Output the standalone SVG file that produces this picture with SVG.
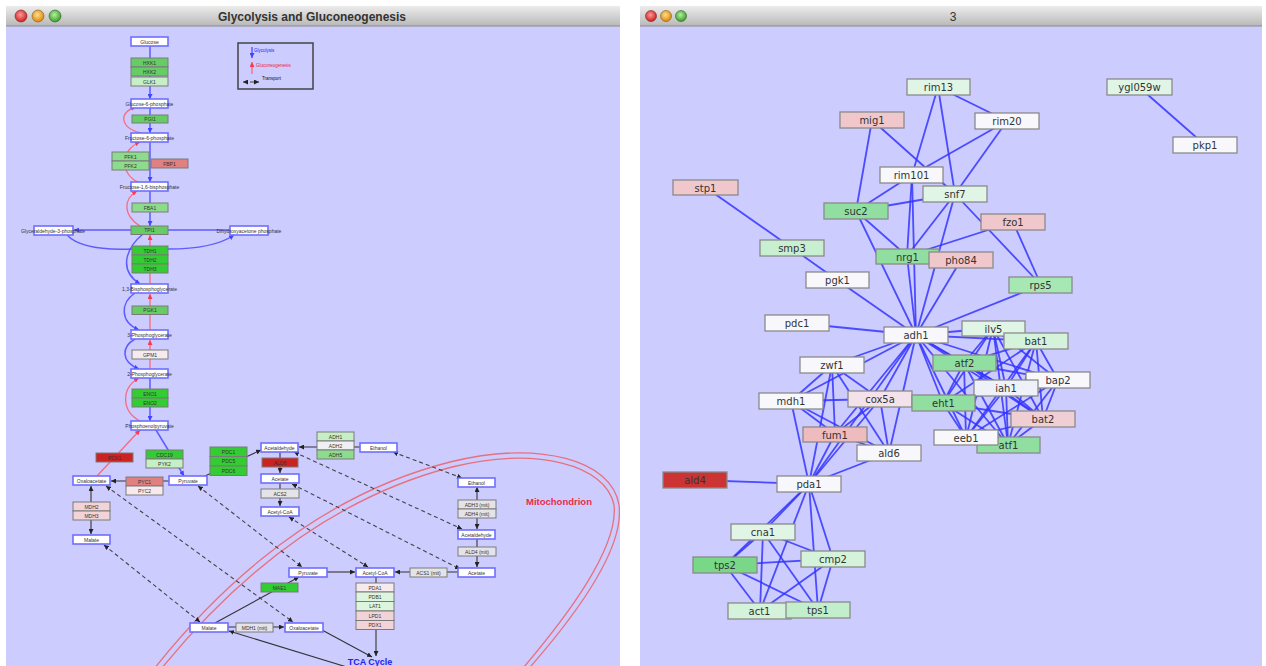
<svg xmlns="http://www.w3.org/2000/svg" width="1266" height="666" viewBox="0 0 1266 666">
<defs>
<linearGradient id="tb" x1="0" y1="0" x2="0" y2="1"><stop offset="0" stop-color="#ececec"/><stop offset="1" stop-color="#b8b8b8"/></linearGradient>
<radialGradient id="bR" cx="0.45" cy="0.4" r="0.6"><stop offset="0" stop-color="#ff9a9a"/><stop offset="1" stop-color="#c81e1e"/></radialGradient>
<radialGradient id="bY" cx="0.45" cy="0.4" r="0.6"><stop offset="0" stop-color="#ffe08a"/><stop offset="1" stop-color="#d8860e"/></radialGradient>
<radialGradient id="bG" cx="0.45" cy="0.4" r="0.6"><stop offset="0" stop-color="#b6f0a0"/><stop offset="1" stop-color="#3a9a2a"/></radialGradient>
<marker id="ab" viewBox="0 0 10 10" refX="10" refY="5" markerWidth="5" markerHeight="5" markerUnits="userSpaceOnUse" orient="auto"><path d="M0,0 L10,5 L0,10 z" fill="#2a2aff"/></marker>
<marker id="ar" viewBox="0 0 10 10" refX="10" refY="5" markerWidth="5" markerHeight="5" markerUnits="userSpaceOnUse" orient="auto"><path d="M0,0 L10,5 L0,10 z" fill="#ff2a40"/></marker>
<marker id="ak" viewBox="0 0 10 10" refX="10" refY="5" markerWidth="5" markerHeight="5" markerUnits="userSpaceOnUse" orient="auto-start-reverse"><path d="M0,0 L10,5 L0,10 z" fill="#222"/></marker>
<clipPath id="cl"><rect x="6" y="26" width="614" height="640"/></clipPath>
</defs>
<style>
.t{font-family:"Liberation Sans",Arial,sans-serif;font-size:5px;fill:#333;text-anchor:middle}
.met{fill:#fff;stroke:#6f6fff;stroke-width:1.6}
.enz{stroke:#7a7a7a;stroke-width:1}
.bl{fill:none;stroke:#4a4aff;stroke-width:1.5;opacity:0.85}
.rd{fill:none;stroke:#ff6070;stroke-width:1.3;opacity:0.9}
.bk{fill:none;stroke:#333;stroke-width:1.1}
.ds{fill:none;stroke:#444;stroke-width:1.1;stroke-dasharray:4 3}
.mito{fill:none;stroke:#e8707e;stroke-width:1.3}
.e{stroke:#3535ff;stroke-width:1.8;opacity:0.85}
.n rect{stroke:#8a8a8a;stroke-width:1.3}
.n text{font-family:"DejaVu Sans",sans-serif;font-size:10px;fill:#333;text-anchor:middle}
.title{font-family:"Liberation Sans",Arial,sans-serif;font-size:12px;fill:#333;text-anchor:middle;font-weight:bold}
.g1{fill:#33cc33}.g2{fill:#66cc66}.g3{fill:#8ddc8d}.g4{fill:#c6efc6}.g5{fill:#dcf5dc}
.r1{fill:#cc2222}.r2{fill:#e08080}.p1{fill:#f2d4d8}.p2{fill:#f6eaee}.gy{fill:#e4e4e8}.wh{fill:#f0f0f4}
</style>
<rect width="1266" height="666" fill="#fff"/>
<!-- Left window -->
<rect x="6" y="26" width="614" height="640" fill="#ccccff"/>
<rect x="6" y="6" width="614" height="20" fill="url(#tb)"/>
<line x1="6" y1="26" x2="620" y2="26" stroke="#8a8a8a"/>
<circle cx="21" cy="16" r="6" fill="url(#bR)" stroke="#8a2020" stroke-width="0.6"/>
<circle cx="38" cy="16" r="6" fill="url(#bY)" stroke="#8a5a10" stroke-width="0.6"/>
<circle cx="55" cy="16" r="6" fill="url(#bG)" stroke="#2a6a20" stroke-width="0.6"/>
<text class="title" x="312" y="21">Glycolysis and Gluconeogenesis</text>
<!-- Right window -->
<rect x="640" y="26" width="622" height="640" fill="#ccccff"/>
<rect x="640" y="6" width="622" height="20" fill="url(#tb)"/>
<line x1="640" y1="26" x2="1262" y2="26" stroke="#8a8a8a"/>
<circle cx="651" cy="16" r="5.5" fill="url(#bR)" stroke="#8a2020" stroke-width="0.6"/>
<circle cx="666" cy="16" r="5.5" fill="url(#bY)" stroke="#8a5a10" stroke-width="0.6"/>
<circle cx="681" cy="16" r="5.5" fill="url(#bG)" stroke="#2a6a20" stroke-width="0.6"/>
<text class="title" x="953" y="21" style="font-weight:normal">3</text>

<!-- Mitochondrion membrane -->
<g id="mitochondrion" clip-path="url(#cl)">
<path class="mito" d="M150,674 C200,610 300,500 450,462 C540,440 612,460 619,505 C625,550 572,620 524,674"/>
<path class="mito" d="M157,674 C206,613 305,505 452,467 C537,446 606,465 614,505 C619,548 566,618 518,674"/>
<text x="559" y="505" style="font-family:'Liberation Sans',Arial,sans-serif;font-size:9.5px;font-weight:bold;fill:#ee2a48;text-anchor:middle">Mitochondrion</text>
</g>

<!-- Legend -->
<g id="legend">
<rect x="238" y="43" width="75" height="46" fill="none" stroke="#444" stroke-width="1.5"/>
<path class="bl" d="M252,47 V58" marker-end="url(#ab)"/>
<text class="t" x="254" y="52" style="text-anchor:start;fill:#2222ee;font-size:4.5px">Glycolysis</text>
<path class="rd" d="M252,74 V62" marker-end="url(#ar)"/>
<text class="t" x="256" y="67" style="text-anchor:start;fill:#ee2233;font-size:4.5px">Gluconeogenesis</text>
<path class="ds" d="M243,82 H259" marker-start="url(#ak)" marker-end="url(#ak)"/>
<text class="t" x="262" y="80" style="text-anchor:start;fill:#111;font-size:4.5px">Transport</text>
</g>

<!-- Connectors (left) -->
<g id="pathway-connectors">
<path class="bl" d="M150,46 V99" marker-end="url(#ab)"/>
<path class="bl" d="M150,108 V133" marker-end="url(#ab)"/>
<path class="bl" d="M150,142 V182" marker-end="url(#ab)"/>
<path class="bl" d="M150,191 V226" marker-end="url(#ab)"/>
<path class="bl" d="M131,230 H74" marker-end="url(#ab)"/>
<path class="bl" d="M168,230 H230"/>
<path class="bl" d="M67,235 Q82,251 132,249"/>
<path class="bl" d="M168,249 Q214,249 234,235" marker-end="url(#ab)"/>
<path class="bl" d="M143,234 C126,248 118,270 140,284" marker-end="url(#ab)"/>
<path class="bl" d="M135,293 C120,303 120,322 139,330" marker-end="url(#ab)"/>
<path class="bl" d="M135,339 C121,347 121,362 139,369" marker-end="url(#ab)"/>
<path class="bl" d="M150,378 V421" marker-end="url(#ab)"/>
<path class="bl" d="M156,430 L184,476" marker-end="url(#ab)"/>
<path class="rd" d="M141,133 C120,128 118,112 136,107" marker-end="url(#ar)"/>
<path class="rd" d="M138,182 C120,174 120,150 140,142" marker-end="url(#ar)"/>
<path class="rd" d="M140,226 C124,216 122,200 137,191" marker-end="url(#ar)"/>
<path class="rd" d="M150,284 V235" marker-end="url(#ar)"/>
<path class="rd" d="M150,330 V294" marker-end="url(#ar)"/>
<path class="rd" d="M150,369 V340" marker-end="url(#ar)"/>
<path class="rd" d="M140,421 C121,411 121,388 139,378" marker-end="url(#ar)"/>
<path class="rd" d="M97,476 L140,430" marker-end="url(#ar)"/>
<path class="bk" d="M169,481 H111" marker-end="url(#ak)"/>
<path class="bk" d="M91,486 V534" marker-start="url(#ak)" marker-end="url(#ak)"/>
<path class="bk" d="M205,476 L261,450" marker-end="url(#ak)"/>
<path class="bk" d="M360,447 H299" marker-end="url(#ak)"/>
<path class="bk" d="M280,452 V473" marker-end="url(#ak)"/>
<path class="bk" d="M280,483 V506" marker-end="url(#ak)"/>
<path class="bk" d="M477,487 V529" marker-start="url(#ak)" marker-end="url(#ak)"/>
<path class="bk" d="M477,539 V567" marker-end="url(#ak)"/>
<path class="bk" d="M458,572 H395" marker-end="url(#ak)"/>
<path class="bk" d="M327,572 H355" marker-end="url(#ak)"/>
<path class="bk" d="M376,577 V656" marker-end="url(#ak)"/>
<path class="bk" d="M322,630 L372,657" marker-end="url(#ak)"/>
<path class="bk" d="M350,668 L229,631" marker-end="url(#ak)"/>
<path class="bk" d="M228,627 H284" marker-end="url(#ak)"/>
<path class="bk" d="M215,623 L299,577" marker-end="url(#ak)"/>
<path class="ds" d="M106,486 L293,622" marker-start="url(#ak)" marker-end="url(#ak)"/>
<path class="ds" d="M104,545 L200,622" marker-start="url(#ak)" marker-end="url(#ak)"/>
<path class="ds" d="M198,486 L302,567" marker-start="url(#ak)" marker-end="url(#ak)"/>
<path class="ds" d="M289,517 L368,567" marker-start="url(#ak)" marker-end="url(#ak)"/>
<path class="ds" d="M292,484 L460,569" marker-start="url(#ak)" marker-end="url(#ak)"/>
<path class="ds" d="M294,452 L462,529" marker-start="url(#ak)" marker-end="url(#ak)"/>
<path class="ds" d="M393,452 L462,478" marker-start="url(#ak)" marker-end="url(#ak)"/>
</g>

<!-- Metabolites -->
<g id="glucose"><rect class="met" x="131" y="37" width="37" height="9"/><text class="t" x="149.5" y="43.5">Glucose</text></g>
<g id="g6p"><rect class="met" x="131" y="99" width="37" height="9"/><text class="t" x="149.5" y="105.5">Glucose-6-phosphate</text></g>
<g id="f6p"><rect class="met" x="131" y="133" width="37" height="9"/><text class="t" x="149.5" y="139.5">Fructose-6-phosphate</text></g>
<g id="f16bp"><rect class="met" x="131" y="182" width="37" height="9"/><text class="t" x="149.5" y="188.5">Fructose-1,6-bisphosphate</text></g>
<g id="gap"><rect class="met" x="34" y="226" width="39" height="9"/><text class="t" x="53" y="232.5">Glyceraldehyde-3-phosphate</text></g>
<g id="dhap"><rect class="met" x="230" y="226" width="38" height="9"/><text class="t" x="249" y="232.5">Dihydroxyacetone phosphate</text></g>
<g id="bpg13"><rect class="met" x="131" y="284" width="37" height="9"/><text class="t" x="149.5" y="290.5">1,3-Bisphosphoglycerate</text></g>
<g id="pg3"><rect class="met" x="131" y="330" width="37" height="9"/><text class="t" x="149.5" y="336.5">3-Phosphoglycerate</text></g>
<g id="pg2"><rect class="met" x="131" y="369" width="37" height="9"/><text class="t" x="149.5" y="375.5">2-Phosphoglycerate</text></g>
<g id="pep"><rect class="met" x="131" y="421" width="37" height="9"/><text class="t" x="149.5" y="427.5">Phosphoenolpyruvate</text></g>
<g id="oaa"><rect class="met" x="73" y="476" width="37" height="9"/><text class="t" x="91.5" y="482.5">Oxaloacetate</text></g>
<g id="pyr"><rect class="met" x="169" y="476" width="38" height="9"/><text class="t" x="188" y="482.5">Pyruvate</text></g>
<g id="acald"><rect class="met" x="261" y="443" width="37" height="9"/><text class="t" x="279.5" y="449.5">Acetaldehyde</text></g>
<g id="acetate"><rect class="met" x="261" y="474" width="38" height="9"/><text class="t" x="280" y="480.5">Acetate</text></g>
<g id="accoa"><rect class="met" x="261" y="507" width="38" height="9"/><text class="t" x="280" y="513.5">Acetyl-CoA</text></g>
<g id="etoh"><rect class="met" x="360" y="443" width="37" height="9"/><text class="t" x="378.5" y="449.5">Ethanol</text></g>
<g id="malate"><rect class="met" x="73" y="535" width="37" height="9"/><text class="t" x="91.5" y="541.5">Malate</text></g>
<g id="etoh-mit"><rect class="met" x="458" y="478" width="37" height="9"/><text class="t" x="476.5" y="484.5">Ethanol</text></g>
<g id="acald-mit"><rect class="met" x="458" y="530" width="37" height="9"/><text class="t" x="476.5" y="536.5">Acetaldehyde</text></g>
<g id="acetate-mit"><rect class="met" x="458" y="568" width="37" height="9"/><text class="t" x="476.5" y="574.5">Acetate</text></g>
<g id="accoa-mit"><rect class="met" x="356" y="568" width="38" height="9"/><text class="t" x="375" y="574.5">Acetyl-CoA</text></g>
<g id="pyr-mit"><rect class="met" x="289" y="568" width="38" height="9"/><text class="t" x="308" y="574.5">Pyruvate</text></g>
<g id="malate-mit"><rect class="met" x="190" y="623" width="38" height="9"/><text class="t" x="209" y="629.5">Malate</text></g>
<g id="oaa-mit"><rect class="met" x="285" y="623" width="38" height="9"/><text class="t" x="304" y="629.5">Oxaloacetate</text></g>

<!-- Enzymes -->
<g id="hxk"><rect class="enz g2" x="131" y="58" width="37" height="9"/><text class="t" x="149.5" y="64.5">HXK1</text>
<rect class="enz g2" x="131" y="67" width="37" height="9"/><text class="t" x="149.5" y="73.5">HXK2</text>
<rect class="enz g4" x="131" y="77" width="37" height="9"/><text class="t" x="149.5" y="83.5">GLK1</text></g>
<g id="pgi1"><rect class="enz g2" x="132" y="115" width="36" height="8"/><text class="t" x="150" y="121">PGI1</text></g>
<g id="pfk"><rect class="enz g3" x="112" y="152" width="37" height="9"/><text class="t" x="130.5" y="158.5">PFK1</text>
<rect class="enz g3" x="112" y="161" width="37" height="9"/><text class="t" x="130.5" y="167.5">PFK2</text></g>
<g id="fbp1"><rect class="enz r2" x="151" y="159" width="37" height="9"/><text class="t" x="169.5" y="165.5">FBP1</text></g>
<g id="fba1"><rect class="enz g3" x="132" y="203" width="36" height="9"/><text class="t" x="150" y="209.5">FBA1</text></g>
<g id="tpi1"><rect class="enz g2" x="131" y="226" width="37" height="8.5"/><text class="t" x="149.5" y="232">TPI1</text></g>
<g id="tdh"><rect class="enz g1" x="132" y="246" width="36" height="9"/><text class="t" x="150" y="252.5">TDH1</text>
<rect class="enz g1" x="132" y="255" width="36" height="9"/><text class="t" x="150" y="261.5">TDH2</text>
<rect class="enz g1" x="132" y="264" width="36" height="9"/><text class="t" x="150" y="270.5">TDH3</text></g>
<g id="pgk1"><rect class="enz g2" x="132" y="306" width="36" height="8.5"/><text class="t" x="150" y="312">PGK1</text></g>
<g id="gpm1"><rect class="enz p2" x="132" y="350" width="36" height="9"/><text class="t" x="150" y="356.5">GPM1</text></g>
<g id="eno"><rect class="enz g1" x="132" y="389" width="36" height="9"/><text class="t" x="150" y="395.5">ENO1</text>
<rect class="enz g1" x="132" y="398" width="36" height="9"/><text class="t" x="150" y="404.5">ENO2</text></g>
<g id="pck1"><rect class="enz r1" x="96" y="453" width="37" height="9"/><text class="t" x="114.5" y="459.5">PCK1</text></g>
<g id="pyk"><rect class="enz g1" x="146" y="450" width="37" height="9"/><text class="t" x="164.5" y="456.5">CDC19</text>
<rect class="enz g4" x="146" y="459" width="37" height="9"/><text class="t" x="164.5" y="465.5">PYK2</text></g>
<g id="pyc"><rect class="enz r2" x="126" y="477" width="37" height="9"/><text class="t" x="144.5" y="483.5">PYC1</text>
<rect class="enz p2" x="126" y="486" width="37" height="9"/><text class="t" x="144.5" y="492.5">PYC2</text></g>
<g id="pdc"><rect class="enz g1" x="210" y="447" width="37" height="9.5"/><text class="t" x="228.5" y="453.5">PDC1</text>
<rect class="enz g1" x="210" y="456.5" width="37" height="9.5"/><text class="t" x="228.5" y="463">PDC5</text>
<rect class="enz g1" x="210" y="466" width="37" height="9.5"/><text class="t" x="228.5" y="472.5">PDC6</text></g>
<g id="ald6"><rect class="enz r1" x="262" y="458" width="36" height="9"/><text class="t" x="280" y="464.5">ALD6</text></g>
<g id="acs2"><rect class="enz gy" x="261" y="489" width="38" height="9"/><text class="t" x="280" y="495.5">ACS2</text></g>
<g id="adh"><rect class="enz g4" x="317" y="432" width="37" height="9"/><text class="t" x="335.5" y="438.5">ADH1</text>
<rect class="enz wh" x="317" y="441" width="37" height="9"/><text class="t" x="335.5" y="447.5">ADH2</text>
<rect class="enz g3" x="317" y="450" width="37" height="9"/><text class="t" x="335.5" y="456.5">ADH5</text></g>
<g id="mdh"><rect class="enz p1" x="73" y="502" width="37" height="9"/><text class="t" x="91.5" y="508.5">MDH2</text>
<rect class="enz p1" x="73" y="511" width="37" height="9"/><text class="t" x="91.5" y="517.5">MDH3</text></g>
<g id="adh-mit"><rect class="enz gy" x="458" y="500" width="38" height="9"/><text class="t" x="477" y="506.5">ADH3 (mit)</text>
<rect class="enz gy" x="458" y="509" width="38" height="9"/><text class="t" x="477" y="515.5">ADH4 (mit)</text></g>
<g id="ald4-mit"><rect class="enz gy" x="458" y="547" width="38" height="9"/><text class="t" x="477" y="553.5">ALD4 (mit)</text></g>
<g id="acs1-mit"><rect class="enz gy" x="410" y="568" width="37" height="9"/><text class="t" x="428.5" y="574.5">ACS1 (mit)</text></g>
<g id="mae1"><rect class="enz g1" x="261" y="583" width="37" height="9"/><text class="t" x="279.5" y="589.5">MAE1</text></g>
<g id="mdh1-mit"><rect class="enz gy" x="236" y="623" width="37" height="9"/><text class="t" x="254.5" y="629.5">MDH1 (mit)</text></g>
<g id="pdh"><rect class="enz p2" x="356" y="583" width="38" height="9"/><text class="t" x="375" y="589.5">PDA1</text>
<rect class="enz g5" x="356" y="592" width="38" height="9.5"/><text class="t" x="375" y="598.5">PDB1</text>
<rect class="enz g5" x="356" y="601.5" width="38" height="9.5"/><text class="t" x="375" y="608">LAT1</text>
<rect class="enz p1" x="356" y="611" width="38" height="9.5"/><text class="t" x="375" y="617.5">LPD1</text>
<rect class="enz p1" x="356" y="620.5" width="38" height="9"/><text class="t" x="375" y="627">PDX1</text></g>
<g id="tca"><text x="370" y="665" style="font-family:'Liberation Sans',Arial,sans-serif;font-size:9px;font-weight:bold;fill:#2222ee;text-anchor:middle">TCA Cycle</text></g>

<!-- Right network edges -->
<g id="edges">
<line class="e" x1="1139" y1="87" x2="1205" y2="145"/>
<line class="e" x1="938" y1="87" x2="1007" y2="121"/>
<line class="e" x1="938" y1="87" x2="912" y2="175"/>
<line class="e" x1="938" y1="87" x2="955" y2="194"/>
<line class="e" x1="1007" y1="121" x2="912" y2="175"/>
<line class="e" x1="1007" y1="121" x2="955" y2="194"/>
<line class="e" x1="872" y1="120" x2="856" y2="211"/>
<line class="e" x1="872" y1="120" x2="955" y2="194"/>
<line class="e" x1="912" y1="175" x2="856" y2="211"/>
<line class="e" x1="912" y1="175" x2="907" y2="256"/>
<line class="e" x1="912" y1="175" x2="916" y2="335"/>
<line class="e" x1="955" y1="194" x2="856" y2="211"/>
<line class="e" x1="955" y1="194" x2="907" y2="256"/>
<line class="e" x1="955" y1="194" x2="916" y2="335"/>
<line class="e" x1="955" y1="194" x2="1041" y2="285"/>
<line class="e" x1="856" y1="211" x2="907" y2="256"/>
<line class="e" x1="856" y1="211" x2="916" y2="335"/>
<line class="e" x1="1013" y1="222" x2="1041" y2="285"/>
<line class="e" x1="1013" y1="222" x2="907" y2="256"/>
<line class="e" x1="705" y1="187" x2="792" y2="248"/>
<line class="e" x1="792" y1="248" x2="837" y2="280"/>
<line class="e" x1="837" y1="280" x2="916" y2="335"/>
<line class="e" x1="797" y1="323" x2="916" y2="335"/>
<line class="e" x1="907" y1="256" x2="916" y2="335"/>
<line class="e" x1="961" y1="260" x2="916" y2="335"/>
<line class="e" x1="1041" y1="285" x2="916" y2="335"/>
<line class="e" x1="916" y1="335" x2="993" y2="328"/>
<line class="e" x1="916" y1="335" x2="1036" y2="341"/>
<line class="e" x1="916" y1="335" x2="964" y2="363"/>
<line class="e" x1="916" y1="335" x2="1006" y2="388"/>
<line class="e" x1="916" y1="335" x2="943" y2="403"/>
<line class="e" x1="916" y1="335" x2="966" y2="438"/>
<line class="e" x1="916" y1="335" x2="1008" y2="445"/>
<line class="e" x1="916" y1="335" x2="1043" y2="419"/>
<line class="e" x1="916" y1="335" x2="1058" y2="380"/>
<line class="e" x1="916" y1="335" x2="832" y2="365"/>
<line class="e" x1="916" y1="335" x2="791" y2="401"/>
<line class="e" x1="916" y1="335" x2="880" y2="399"/>
<line class="e" x1="916" y1="335" x2="835" y2="434"/>
<line class="e" x1="916" y1="335" x2="889" y2="453"/>
<line class="e" x1="916" y1="335" x2="809" y2="484"/>
<line class="e" x1="993" y1="328" x2="1036" y2="341"/>
<line class="e" x1="993" y1="328" x2="964" y2="363"/>
<line class="e" x1="993" y1="328" x2="1058" y2="380"/>
<line class="e" x1="993" y1="328" x2="1006" y2="388"/>
<line class="e" x1="993" y1="328" x2="943" y2="403"/>
<line class="e" x1="993" y1="328" x2="1043" y2="419"/>
<line class="e" x1="993" y1="328" x2="966" y2="438"/>
<line class="e" x1="993" y1="328" x2="1008" y2="445"/>
<line class="e" x1="1036" y1="341" x2="964" y2="363"/>
<line class="e" x1="1036" y1="341" x2="1058" y2="380"/>
<line class="e" x1="1036" y1="341" x2="1006" y2="388"/>
<line class="e" x1="1036" y1="341" x2="943" y2="403"/>
<line class="e" x1="1036" y1="341" x2="1043" y2="419"/>
<line class="e" x1="1036" y1="341" x2="966" y2="438"/>
<line class="e" x1="1036" y1="341" x2="1008" y2="445"/>
<line class="e" x1="964" y1="363" x2="1058" y2="380"/>
<line class="e" x1="964" y1="363" x2="1006" y2="388"/>
<line class="e" x1="964" y1="363" x2="943" y2="403"/>
<line class="e" x1="964" y1="363" x2="1043" y2="419"/>
<line class="e" x1="964" y1="363" x2="966" y2="438"/>
<line class="e" x1="964" y1="363" x2="1008" y2="445"/>
<line class="e" x1="1058" y1="380" x2="1006" y2="388"/>
<line class="e" x1="1058" y1="380" x2="943" y2="403"/>
<line class="e" x1="1058" y1="380" x2="1043" y2="419"/>
<line class="e" x1="1058" y1="380" x2="966" y2="438"/>
<line class="e" x1="1058" y1="380" x2="1008" y2="445"/>
<line class="e" x1="1006" y1="388" x2="943" y2="403"/>
<line class="e" x1="1006" y1="388" x2="1043" y2="419"/>
<line class="e" x1="1006" y1="388" x2="966" y2="438"/>
<line class="e" x1="1006" y1="388" x2="1008" y2="445"/>
<line class="e" x1="943" y1="403" x2="1043" y2="419"/>
<line class="e" x1="943" y1="403" x2="966" y2="438"/>
<line class="e" x1="943" y1="403" x2="1008" y2="445"/>
<line class="e" x1="1043" y1="419" x2="966" y2="438"/>
<line class="e" x1="1043" y1="419" x2="1008" y2="445"/>
<line class="e" x1="966" y1="438" x2="1008" y2="445"/>
<line class="e" x1="832" y1="365" x2="791" y2="401"/>
<line class="e" x1="832" y1="365" x2="880" y2="399"/>
<line class="e" x1="832" y1="365" x2="835" y2="434"/>
<line class="e" x1="832" y1="365" x2="889" y2="453"/>
<line class="e" x1="832" y1="365" x2="809" y2="484"/>
<line class="e" x1="791" y1="401" x2="880" y2="399"/>
<line class="e" x1="791" y1="401" x2="835" y2="434"/>
<line class="e" x1="791" y1="401" x2="889" y2="453"/>
<line class="e" x1="791" y1="401" x2="809" y2="484"/>
<line class="e" x1="880" y1="399" x2="835" y2="434"/>
<line class="e" x1="880" y1="399" x2="889" y2="453"/>
<line class="e" x1="880" y1="399" x2="809" y2="484"/>
<line class="e" x1="835" y1="434" x2="809" y2="484"/>
<line class="e" x1="835" y1="434" x2="889" y2="453"/>
<line class="e" x1="889" y1="453" x2="809" y2="484"/>
<line class="e" x1="695" y1="480" x2="809" y2="484"/>
<line class="e" x1="809" y1="484" x2="763" y2="532"/>
<line class="e" x1="809" y1="484" x2="725" y2="565"/>
<line class="e" x1="809" y1="484" x2="833" y2="559"/>
<line class="e" x1="809" y1="484" x2="818" y2="610"/>
<line class="e" x1="809" y1="484" x2="760" y2="611"/>
<line class="e" x1="763" y1="532" x2="725" y2="565"/>
<line class="e" x1="763" y1="532" x2="833" y2="559"/>
<line class="e" x1="763" y1="532" x2="760" y2="611"/>
<line class="e" x1="763" y1="532" x2="818" y2="610"/>
<line class="e" x1="725" y1="565" x2="833" y2="559"/>
<line class="e" x1="725" y1="565" x2="760" y2="611"/>
<line class="e" x1="725" y1="565" x2="818" y2="610"/>
<line class="e" x1="833" y1="559" x2="760" y2="611"/>
<line class="e" x1="833" y1="559" x2="818" y2="610"/>
</g>

<!-- Right network nodes -->
<g id="n-rim13" class="n"><rect x="907" y="79" width="63" height="16" fill="#e0f5e6"/><text x="938.5" y="91">rim13</text></g>
<g id="n-rim20" class="n"><rect x="975" y="113" width="64" height="16" fill="#f8f8fc"/><text x="1007" y="125">rim20</text></g>
<g id="n-mig1" class="n"><rect x="840" y="112" width="64" height="16" fill="#f0c8cc"/><text x="872" y="124">mig1</text></g>
<g id="n-ygl059w" class="n"><rect x="1107" y="79" width="65" height="16" fill="#e0f5e6"/><text x="1139.5" y="91">ygl059w</text></g>
<g id="n-pkp1" class="n"><rect x="1173" y="137" width="64" height="16" fill="#f8f8fc"/><text x="1205" y="149">pkp1</text></g>
<g id="n-rim101" class="n"><rect x="880" y="167" width="63" height="16" fill="#f8f8fc"/><text x="911.5" y="179">rim101</text></g>
<g id="n-snf7" class="n"><rect x="923" y="186" width="64" height="16" fill="#e0f5e6"/><text x="955" y="198">snf7</text></g>
<g id="n-stp1" class="n"><rect x="673" y="180" width="65" height="15" fill="#f0c8cc"/><text x="705.5" y="191.5">stp1</text></g>
<g id="n-suc2" class="n"><rect x="824" y="203" width="64" height="16" fill="#90dfa0"/><text x="856" y="215">suc2</text></g>
<g id="n-fzo1" class="n"><rect x="981" y="214" width="64" height="16" fill="#f0c8cc"/><text x="1013" y="226">fzo1</text></g>
<g id="n-smp3" class="n"><rect x="760" y="240" width="64" height="16" fill="#c8f0d0"/><text x="792" y="252">smp3</text></g>
<g id="n-nrg1" class="n"><rect x="876" y="249" width="63" height="15" fill="#90dfa0"/><text x="907.5" y="260.5">nrg1</text></g>
<g id="n-pho84" class="n"><rect x="929" y="252" width="64" height="16" fill="#f0c8cc"/><text x="961" y="264">pho84</text></g>
<g id="n-rps5" class="n"><rect x="1009" y="277" width="63" height="16" fill="#a6e8b4"/><text x="1040.5" y="289">rps5</text></g>
<g id="n-pgk1" class="n"><rect x="806" y="272" width="63" height="16" fill="#f8f8fc"/><text x="837.5" y="284">pgk1</text></g>
<g id="n-pdc1" class="n"><rect x="765" y="315" width="64" height="16" fill="#f8f8fc"/><text x="797" y="327">pdc1</text></g>
<g id="n-adh1" class="n"><rect x="884" y="327" width="64" height="16" fill="#f8f8fc"/><text x="916" y="339">adh1</text></g>
<g id="n-ilv5" class="n"><rect x="962" y="321" width="63" height="15" fill="#e0f5e6"/><text x="993.5" y="332.5">ilv5</text></g>
<g id="n-bat1" class="n"><rect x="1004" y="333" width="64" height="16" fill="#d4f3da"/><text x="1036" y="345">bat1</text></g>
<g id="n-zwf1" class="n"><rect x="800" y="357" width="64" height="16" fill="#f8f8fc"/><text x="832" y="369">zwf1</text></g>
<g id="n-atf2" class="n"><rect x="933" y="355" width="63" height="16" fill="#90dfa0"/><text x="964.5" y="367">atf2</text></g>
<g id="n-bap2" class="n"><rect x="1026" y="372" width="64" height="16" fill="#f8f8fc"/><text x="1058" y="384">bap2</text></g>
<g id="n-iah1" class="n"><rect x="974" y="380" width="64" height="16" fill="#eef2f8"/><text x="1006" y="392">iah1</text></g>
<g id="n-mdh1" class="n"><rect x="759" y="393" width="64" height="16" fill="#f8f8fc"/><text x="791" y="405">mdh1</text></g>
<g id="n-cox5a" class="n"><rect x="848" y="391" width="64" height="16" fill="#f4e2ea"/><text x="880" y="403">cox5a</text></g>
<g id="n-eht1" class="n"><rect x="912" y="395" width="63" height="16" fill="#90dfa0"/><text x="943.5" y="407">eht1</text></g>
<g id="n-bat2" class="n"><rect x="1011" y="411" width="64" height="16" fill="#f0cfd4"/><text x="1043" y="423">bat2</text></g>
<g id="n-fum1" class="n"><rect x="803" y="427" width="64" height="15" fill="#eebbbf"/><text x="835" y="438.5">fum1</text></g>
<g id="n-atf1" class="n"><rect x="977" y="437" width="63" height="16" fill="#90dfa0"/><text x="1008.5" y="449">atf1</text></g>
<g id="n-eeb1" class="n"><rect x="934" y="430" width="64" height="15" fill="#f8f8fc"/><text x="966" y="441.5">eeb1</text></g>
<g id="n-ald6" class="n"><rect x="857" y="445" width="64" height="16" fill="#f8f8fc"/><text x="889" y="457">ald6</text></g>
<g id="n-ald4" class="n"><rect x="663" y="472" width="64" height="16" fill="#cc3333"/><text x="695" y="484">ald4</text></g>
<g id="n-pda1" class="n"><rect x="777" y="476" width="64" height="16" fill="#f8f8fc"/><text x="809" y="488">pda1</text></g>
<g id="n-cna1" class="n"><rect x="731" y="524" width="64" height="16" fill="#e0f5e6"/><text x="763" y="536">cna1</text></g>
<g id="n-cmp2" class="n"><rect x="801" y="551" width="64" height="16" fill="#d4f3da"/><text x="833" y="563">cmp2</text></g>
<g id="n-tps2" class="n"><rect x="693" y="557" width="64" height="16" fill="#78d888"/><text x="725" y="569">tps2</text></g>
<g id="n-act1" class="n"><rect x="728" y="603" width="63" height="16" fill="#d4f3da"/><text x="759.5" y="615">act1</text></g>
<g id="n-tps1" class="n"><rect x="786" y="602" width="64" height="16" fill="#c2eecb"/><text x="818" y="614">tps1</text></g>
</svg>
